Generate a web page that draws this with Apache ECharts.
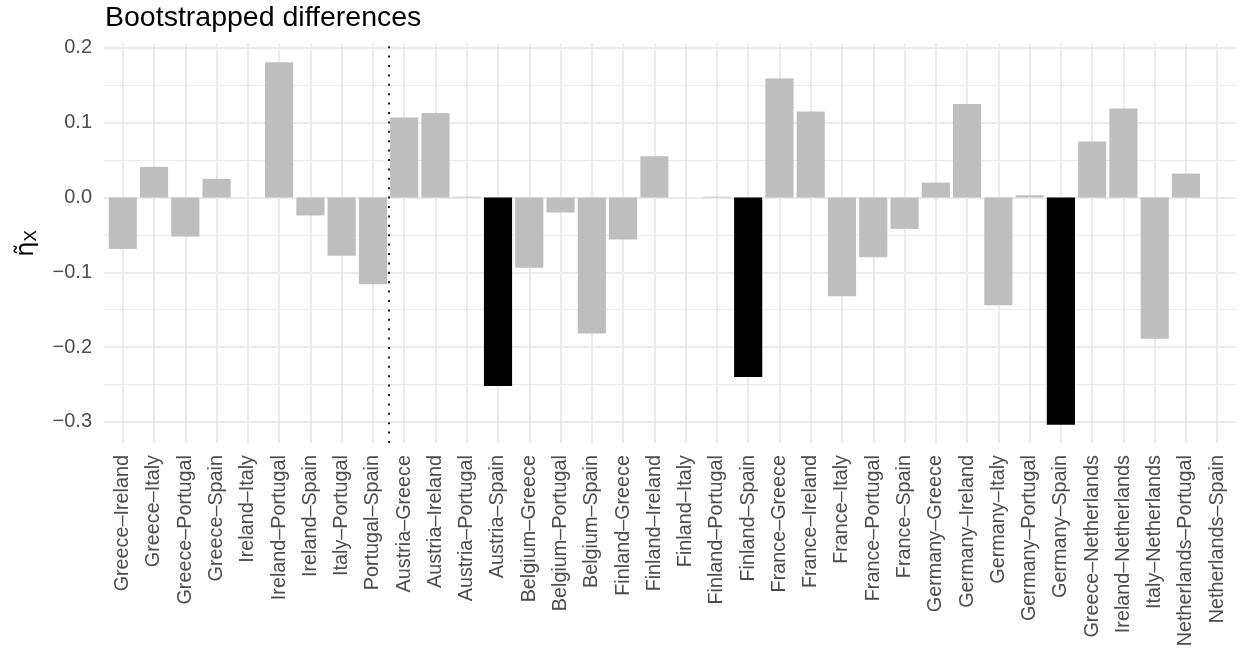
<!DOCTYPE html>
<html><head><meta charset="utf-8">
<script src="https://cdn.jsdelivr.net/npm/echarts@6/dist/echarts.min.js"></script>
<style>html,body{margin:0;padding:0;background:#fff}#c{width:1241px;height:652px}</style>
</head><body><div id="c"></div>
<script>
const categories = [
  "Greece–Ireland","Greece–Italy","Greece–Portugal","Greece–Spain","Ireland–Italy","Ireland–Portugal",
  "Ireland–Spain","Italy–Portugal","Portugal–Spain","Austria–Greece","Austria–Ireland","Austria–Portugal",
  "Austria–Spain","Belgium–Greece","Belgium–Portugal","Belgium–Spain","Finland–Greece","Finland–Ireland",
  "Finland–Italy","Finland–Portugal","Finland–Spain","France–Greece","France–Ireland","France–Italy",
  "France–Portugal","France–Spain","Germany–Greece","Germany–Ireland","Germany–Italy","Germany–Portugal",
  "Germany–Spain","Greece–Netherlands","Ireland–Netherlands","Italy–Netherlands","Netherlands–Portugal","Netherlands–Spain"
];
const values = [
  -0.069, 0.041, -0.052, 0.025, 0.000, 0.181,
  -0.024, -0.078, -0.116, 0.107, 0.113, 0.001,
  -0.252, -0.094, -0.020, -0.182, -0.056, 0.055,
  0.000, 0.001, -0.240, 0.159, 0.115, -0.132,
  -0.080, -0.042, 0.020, 0.125, -0.144, 0.003,
  -0.304, 0.075, 0.119, -0.189, 0.032, 0.000
];
const highlighted = ["Austria–Spain", "Finland–Spain", "Germany–Spain"];
const dividerAfter = "Portugal–Spain";
const yTicks = [-0.3, -0.2, -0.1, 0.0, 0.1, 0.2];
const yMinorTicks = [-0.25, -0.15, -0.05, 0.05, 0.15];
const titleText = "Bootstrapped differences";

const FONT = "Liberation Sans";
const lo = Math.min(0, ...values), hi = Math.max(0, ...values);
const pad = 0.05 * (hi - lo);
const yMin = lo - pad, yMax = hi + pad;
const n = categories.length;
const xMinC = -0.6, xMaxC = n - 1 + 0.6;

const G = { left: 104, right: 5, top: 44, bottom: 209 };
const band = (1241 - G.left - G.right) / (n + 0.2);
const G2 = { left: G.left + 0.1 * band, right: G.right + 0.1 * band, top: G.top, bottom: G.bottom };

const gridLines = [];
yTicks.forEach(v => gridLines.push([{ coord: [xMinC, v], lineStyle: { width: 2, color: '#ebebeb', type: 'solid' } }, { coord: [xMaxC, v] }]));
yMinorTicks.forEach(v => gridLines.push([{ coord: [xMinC, v], lineStyle: { width: 1, color: '#ebebeb', type: 'solid' } }, { coord: [xMaxC, v] }]));
categories.forEach((c, i) => gridLines.push([{ coord: [i, yMin], lineStyle: { width: 2, color: '#ebebeb', type: 'solid' } }, { coord: [i, yMax] }]));
const divIdx = categories.indexOf(dividerAfter) + 0.5;

const chart = echarts.init(document.getElementById('c'), null, { renderer: 'canvas' });
chart.setOption({
  animation: false,
  backgroundColor: '#ffffff',
  title: {
    text: titleText, left: 105, top: 4, padding: 0,
    textStyle: { fontFamily: FONT, fontSize: 28.5, fontWeight: 'normal', color: '#000000' }
  },
  grid: [
    { left: G.left, right: G.right, top: G.top, bottom: G.bottom, containLabel: false },
    { left: G2.left, right: G2.right, top: G2.top, bottom: G2.bottom, containLabel: false }
  ],
  xAxis: [
    { type: 'value', gridIndex: 0, min: xMinC, max: xMaxC, show: false },
    {
      type: 'category', gridIndex: 1, data: categories,
      axisLine: { show: false }, axisTick: { show: false }, splitLine: { show: false },
      axisLabel: { interval: 0, rotate: 90, margin: 12, fontFamily: FONT, fontSize: 19.8, color: '#4d4d4d' }
    }
  ],
  yAxis: [
    {
      type: 'value', gridIndex: 0, min: yMin, max: yMax,
      axisLine: { show: false }, axisTick: { show: false }, splitLine: { show: false },
      axisLabel: {
        customValues: yTicks, margin: 12, fontFamily: FONT, fontSize: 20, color: '#4d4d4d',
        formatter: v => (v < 0 ? '\u2212' : '') + Math.abs(v).toFixed(1)
      },
      name: '{e|\u03B7\u0303}{s|X}', nameLocation: 'middle', nameRotate: 90, nameGap: 64,
      nameTextStyle: {
        fontFamily: 'DejaVu Sans', color: '#000000',
        rich: {
          e: { fontFamily: 'DejaVu Sans', fontSize: 24, color: '#000' },
          s: { fontFamily: FONT, fontSize: 17, color: '#000', padding: [10, 0, 0, 0] }
        }
      }
    },
    { type: 'value', gridIndex: 1, min: yMin, max: yMax, show: false }
  ],
  series: [
    {
      type: 'line', xAxisIndex: 0, yAxisIndex: 0, data: [], z: 0, silent: true, symbol: 'none',
      markLine: { silent: true, symbol: ['none', 'none'], z: 0, label: { show: false }, animation: false, data: gridLines }
    },
    {
      type: 'bar', xAxisIndex: 1, yAxisIndex: 1, z: 2, barWidth: '90%', silent: true,
      data: values.map((v, i) => ({ value: v, itemStyle: { color: highlighted.includes(categories[i]) ? '#000000' : '#bebebe' } }))
    },
    {
      type: 'line', xAxisIndex: 0, yAxisIndex: 0, data: [], z: 3, silent: true, symbol: 'none',
      markLine: {
        silent: true, symbol: ['none', 'none'], z: 3, label: { show: false }, animation: false,
        data: [[{ coord: [divIdx, yMin], lineStyle: { color: '#222', width: 2, type: [2, 7.4] } }, { coord: [divIdx, yMax] }]]
      }
    }
  ]
});
</script></body></html>
